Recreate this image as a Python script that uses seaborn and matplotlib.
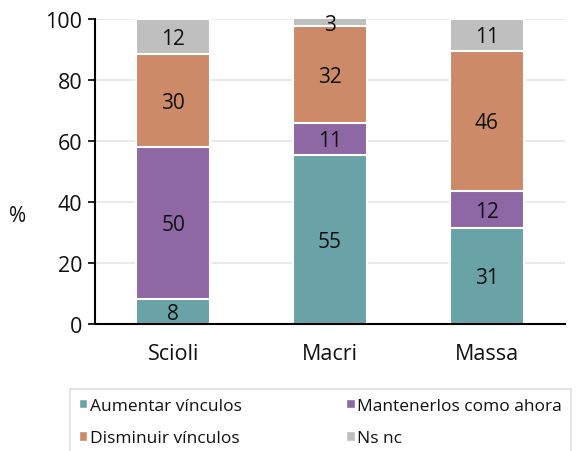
import numpy as np
import pandas as pd
import matplotlib
matplotlib.use("Agg")
import matplotlib.pyplot as plt
import seaborn as sns
from matplotlib.patches import Patch

# data
candidates = ["Scioli", "Macri", "Massa"]
series = ["Aumentar vínculos", "Mantenerlos como ahora", "Disminuir vínculos", "Ns nc"]
aumentar = [8.3, 55.4, 31.4]
mantener = [49.7, 10.6, 12.3]
disminuir = [30.4, 31.6, 45.8]
nsnc = [11.6, 2.6, 10.6]
colors = ["#6aa3a7", "#8e67a5", "#cd8a68", "#bfbfbf"]

sns.set_style("white")
plt.rcParams["font.family"] = ["Open Sans", "DejaVu Sans"]
plt.rcParams["text.color"] = "#111111"
plt.rcParams["xtick.labelcolor"] = "#111111"
plt.rcParams["ytick.labelcolor"] = "#111111"
plt.rcParams["axes.labelcolor"] = "#111111"

values = np.array([aumentar, mantener, disminuir, nsnc])
cum = values.cumsum(axis=0)

fig = plt.figure(figsize=(5.79, 4.52), dpi=100)
ax = fig.add_axes([0.164, 0.281, 0.812, 0.675])

# draw the stacks from the top down so each layer covers the one below
for i in range(len(series) - 1, -1, -1):
    df = pd.DataFrame({"cand": candidates, "y": cum[i]})
    sns.barplot(data=df, x="cand", y="y", color=colors[i], width=0.47,
                edgecolor="white", linewidth=1.5, saturation=1, ax=ax)

for j in range(len(candidates)):
    for i in range(len(series)):
        bottom = cum[i - 1][j] if i > 0 else 0
        mid = bottom + values[i][j] / 2
        ax.text(j, mid - 0.6, "%.0f" % values[i][j], ha="center", va="center",
                fontsize=15, color="#111111")

ax.set_ylim(0, 100)
ax.set_xlim(-0.5, 2.5)
ax.set_yticks(range(0, 101, 20))
ax.yaxis.grid(True, color="#e6e6e6", linewidth=1.2)
ax.set_axisbelow(True)
ax.set_xticks([0, 1, 2])
ax.set_xticklabels(candidates, fontsize=15.5)
ax.set_xticks([-0.5, 0.5, 1.5, 2.5], minor=True)
ax.tick_params(axis="x", which="major", length=0, pad=14)
ax.tick_params(axis="x", which="minor", length=5, width=1.2, direction="out", color="black")
ax.tick_params(axis="y", labelsize=15.5, length=5, width=1.2, direction="out", left=True,
               color="black", pad=4)
ax.set_xlabel("")
ax.set_ylabel("%", rotation=0, fontsize=15)
ax.yaxis.set_label_coords(-0.164, 0.32)
for s in ["top", "right"]:
    ax.spines[s].set_visible(False)
for s in ["left", "bottom"]:
    ax.spines[s].set_color("black")
    ax.spines[s].set_linewidth(1.5)

handles = [Patch(facecolor=c, edgecolor="white") for c in colors]
order = [0, 2, 1, 3]
leg = fig.legend([handles[k] for k in order], [series[k] for k in order],
                 ncol=2, loc="upper left", bbox_to_anchor=(70 / 579, 1 - 390 / 452),
                 borderaxespad=0, frameon=True, fancybox=False, edgecolor="#d9d9d9",
                 fontsize=12.5, handlelength=0.5, handleheight=0.5, handletextpad=0.15,
                 columnspacing=6.0, labelspacing=0.95, borderpad=0.5)
leg.get_frame().set_linewidth(1.2)

fig.savefig("out.png", dpi=100)
